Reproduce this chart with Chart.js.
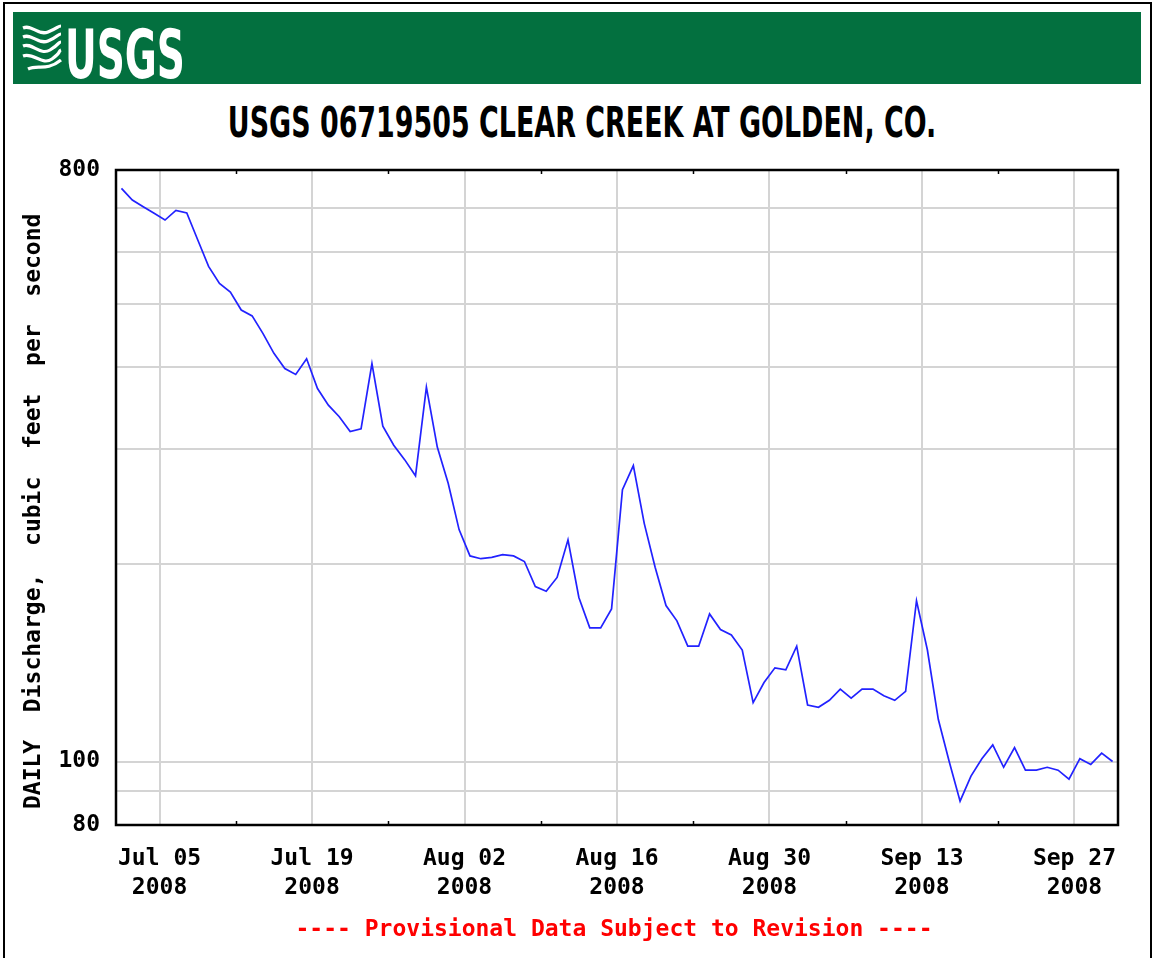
<!DOCTYPE html>
<html lang="en">
<head>
  <meta charset="utf-8" />
  <title>USGS 06719505 Clear Creek at Golden, CO</title>
  <script src="https://cdn.jsdelivr.net/npm/chart.js@4.4.1/dist/chart.umd.min.js"></script>
  <style>
    html, body { margin: 0; padding: 0; background: #fff; }
    body { width: 1154px; height: 958px; position: relative; overflow: hidden; }
    #frame { position: absolute; left: 3px; top: 2px; width: 1145px; height: 1000px; border: 2px solid #000; }
    #header { position: absolute; left: 13px; top: 12px; width: 1128px; height: 72px; background: #03703f; }
    #waves { position: absolute; left: 9px; top: 10px; }
    #logo {
      position: absolute; left: 52px; top: 3px; color: #fff; white-space: nowrap;
      font: bold 68px "Liberation Sans Narrow", "DejaVu Sans Condensed", sans-serif;
      transform-origin: left top;
    }
    #title {
      position: absolute; left: 582px; top: 98px; white-space: nowrap; color: #000;
      font: bold 42px "Liberation Sans Narrow", "DejaVu Sans Condensed", sans-serif;
    }
    #note {
      position: absolute; left: 614px; top: 915px; white-space: nowrap; color: #ff0000;
      font: bold 23px "DejaVu Sans Mono", monospace; transform: translateX(-50%);
    }
    canvas { position: absolute; left: 0; top: 0; }
  </style>
</head>
<body>
<div id="frame"></div>
<div id="header">
  <svg id="waves" width="40" height="52" viewBox="0 0 40 52">
    <g fill="none" stroke="#fff" stroke-width="3.2">
      <path d="M1 6 C 10 2, 16 14, 26 10 S 36 4, 39 4" />
      <path d="M1 15 C 10 11, 16 23, 26 19 S 36 12, 39 12" />
      <path d="M1 24 C 10 20, 18 34, 28 28 S 36 20, 39 20" />
      <path d="M1 34 C 12 30, 20 44, 30 37 S 36 29, 39 28" />
      <path d="M6 47 C 16 42, 24 50, 39 38" />
    </g>
  </svg>
  <div id="logo">USGS</div>
</div>
<div id="title">USGS 06719505 CLEAR CREEK AT GOLDEN, CO.</div>
<canvas id="flowChart" width="1154" height="958"></canvas>
<div id="note">---- Provisional Data Subject to Revision ----</div>

<script>
// daily mean discharge, Jul 01 .. Sep 30 2008 (cfs)
const flow = [
  750, 720, 703, 687, 671, 694, 688, 626, 570, 537,
  521, 489, 479, 450, 420, 398, 390, 412, 371, 350,
  336, 319, 322, 405, 325, 304, 289, 273, 373, 302,
  266, 226, 206, 204, 205, 207, 206, 202, 185, 182,
  191, 218, 178, 160, 160, 171, 260, 283, 231, 198,
  173, 164, 150, 150, 168, 159, 156, 148, 123, 132,
  139, 138, 150, 122, 121, 124, 129, 125, 129, 129,
  126, 124, 128, 176, 148, 116, 100, 87, 95, 101,
  106, 98, 105, 97, 97, 98, 97, 94, 101, 99,
  103, 100
];

// x axis is in days since Jul 01 2008; daily values sit at noon
const xMin = 0;
const xMax = 92;
const majorDays = [4, 18, 32, 46, 60, 74, 88];
const majorLabels = [
  ['Jul 05', '2008'], ['Jul 19', '2008'], ['Aug 02', '2008'], ['Aug 16', '2008'],
  ['Aug 30', '2008'], ['Sep 13', '2008'], ['Sep 27', '2008']
];
const minorDays = [11, 25, 39, 53, 67, 81];

const yMin = 80;
const yMax = 800;
const yGrid = [80, 90, 100, 200, 300, 400, 500, 600, 700, 800];
const yLabeled = [80, 100, 800];

const monoFont = { family: '"DejaVu Sans Mono", monospace', size: 23, weight: 'bold', lineHeight: 1.25 };

// fit the title and logo to the widths in the original
function fitText(id, width, center) {
  const el = document.getElementById(id);
  const k = width / el.offsetWidth;
  el.style.transform = center ? `translateX(-50%) scaleX(${k})` : `scaleX(${k})`;
}
fitText('title', 708, true);
fitText('logo', 120, false);

// black box round the plot, plus the small minor ticks on top and bottom
const framePlugin = {
  id: 'frame',
  afterDraw(chart) {
    const { ctx, chartArea: a, scales } = chart;
    ctx.save();
    ctx.strokeStyle = '#000';
    ctx.lineWidth = 1.5;
    minorDays.forEach(d => {
      const px = Math.round(scales.x.getPixelForValue(d)) + 0.5;
      ctx.beginPath();
      ctx.moveTo(px, a.bottom); ctx.lineTo(px, a.bottom - 4);
      ctx.moveTo(px, a.top); ctx.lineTo(px, a.top + 4);
      ctx.stroke();
    });
    ctx.lineWidth = 2.5;
    ctx.strokeRect(a.left, a.top, a.right - a.left, a.bottom - a.top);
    ctx.restore();
  }
};

const points = flow.map((v, i) => ({ x: i + 0.5, y: v }));

new Chart(document.getElementById('flowChart'), {
  type: 'line',
  data: {
    datasets: [{
      data: points,
      borderColor: '#2222ff',
      borderWidth: 1.7,
      pointRadius: 0,
      tension: 0,
      fill: false
    }]
  },
  options: {
    responsive: false,
    animation: false,
    events: [],
    layout: { padding: { left: 0, top: 170, right: 36, bottom: 53 } },
    plugins: { legend: { display: false }, tooltip: { enabled: false } },
    scales: {
      x: {
        type: 'linear',
        min: xMin,
        max: xMax,
        afterBuildTicks: s => {
          s.ticks = majorDays.concat(minorDays).sort((a, b) => a - b).map(v => ({ value: v }));
        },
        afterFit: s => { s.height = 80; },
        border: { display: false },
        grid: {
          drawTicks: false,
          lineWidth: 2,
          color: c => (c.tick && majorDays.includes(c.tick.value)) ? '#d4d4d4' : 'rgba(0,0,0,0)'
        },
        ticks: {
          autoSkip: false,
          maxRotation: 0,
          padding: 20,
          color: '#000',
          font: monoFont,
          callback: v => {
            const i = majorDays.indexOf(v);
            return i >= 0 ? majorLabels[i] : '';
          }
        }
      },
      y: {
        type: 'logarithmic',
        min: yMin,
        max: yMax,
        afterBuildTicks: s => { s.ticks = yGrid.map(v => ({ value: v })); },
        afterFit: s => { s.width = 116; },
        border: { display: false },
        grid: { drawTicks: false, lineWidth: 2, color: '#d4d4d4' },
        ticks: {
          autoSkip: false,
          padding: 16,
          color: '#000',
          font: monoFont,
          callback: v => yLabeled.includes(v) ? String(v) : ''
        },
        title: {
          display: true,
          text: 'DAILY  Discharge,  cubic  feet  per  second  ',
          color: '#000',
          font: { family: '"DejaVu Sans Mono", monospace', size: 23, weight: 'bold' },
          padding: { top: 20, bottom: 0 }
        }
      }
    }
  },
  plugins: [framePlugin]
});
</script>
</body>
</html>
